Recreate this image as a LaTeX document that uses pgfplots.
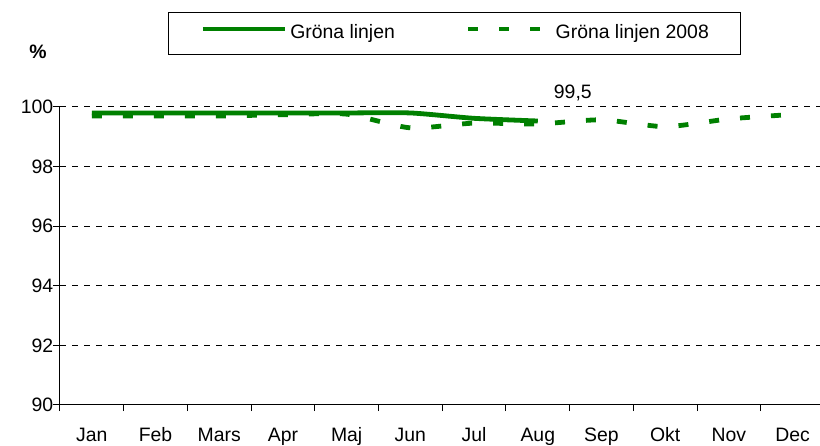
\documentclass[border=0pt]{standalone}
\usepackage{pgfplots}
\pgfplotsset{compat=1.18}
\usepackage{fontspec}
\setmainfont{Liberation Sans}
\definecolor{xlgreen}{RGB}{0,128,0}
\begin{document}
\fontsize{9.7}{11.6}\selectfont
\begin{tikzpicture}
\path[use as bounding box] (-30pt,-20pt) rectangle (380pt,202.5pt);
\begin{axis}[
  at={(0pt,0pt)}, anchor=south west,
  scale only axis, width=380pt, height=149pt,
  xmin=-0.5, xmax=11.43, ymin=90, ymax=100,
  clip=false,
  axis lines*=left,
  axis line style={black, line width=0.5pt},
  tick align=outside,
  xtick={0,...,11},
  xticklabels={Jan,Feb,Mars,Apr,Maj,Jun,Jul,Aug,Sep,Okt,Nov,Dec},
  major x tick style={draw=none},
  minor xtick={-0.5,0.5,...,10.5},
  minor x tick style={black, line width=0.5pt},
  minor tick length=3pt,
  major tick length=3.5pt,
  ytick={90,92,...,100},
  y tick style={black, line width=0.5pt},
  ymajorgrids=true,
  major grid style={black, line width=0.5pt, dash pattern=on 3pt off 3pt},
  /pgf/number format/assume math mode=true,
  tick label style={font=\fontsize{9.7}{11.6}\selectfont},
  xticklabel style={text height=7.2pt, text depth=2pt, yshift=-4pt},
  yticklabel style={xshift=3.5pt},
  legend columns=2,
  legend style={at={(0.1421,1.3188)}, anchor=north west, draw=black, line width=0.5pt,
    font=\fontsize{9.7}{11.6}\selectfont,
    inner xsep=16pt, inner ysep=5.9pt,
    cells={anchor=base west},
    nodes={inner sep=0pt, text height=7.2pt, text depth=2pt},
    /tikz/every odd column/.append style={column sep=1.5pt},
    /tikz/every even column/.append style={column sep=35.5pt}},
]
\addplot[xlgreen, line width=2.4pt, smooth, tension=0.4,
  legend image code/.code={\draw[xlgreen, line width=2.4pt] (0pt,4.85pt) -- (41pt,4.85pt);}] coordinates {
(0,99.8)(1,99.8)(2,99.8)(3,99.8)(4,99.8)(5,99.8)(6,99.62)(7,99.53)};
\addlegendentry{Gröna linjen}
\addplot[xlgreen, line width=2.4pt, dash pattern=on 5pt off 10.5pt, smooth, tension=0.4,
  legend image code/.code={
    \draw[xlgreen, line width=2.4pt] (0pt,4.85pt) -- (5pt,4.85pt);
    \draw[xlgreen, line width=2.4pt] (15.5pt,4.85pt) -- (20.8pt,4.85pt);
    \draw[xlgreen, line width=2.4pt] (31pt,4.85pt) -- (36.5pt,4.85pt);
    \path (41pt,4.85pt);}] coordinates {
(0,99.7)(1,99.7)(2,99.7)(3,99.74)(4,99.76)(5,99.3)(6,99.46)(7,99.43)(8,99.57)(9,99.34)(10,99.6)(11,99.75)};
\addlegendentry{Gröna linjen 2008}
\node[anchor=base] at (axis cs:7.55,100.28) {99,5};
\end{axis}
\node[font=\bfseries] at (-11pt,176.5pt) {\%};
\end{tikzpicture}
\end{document}
